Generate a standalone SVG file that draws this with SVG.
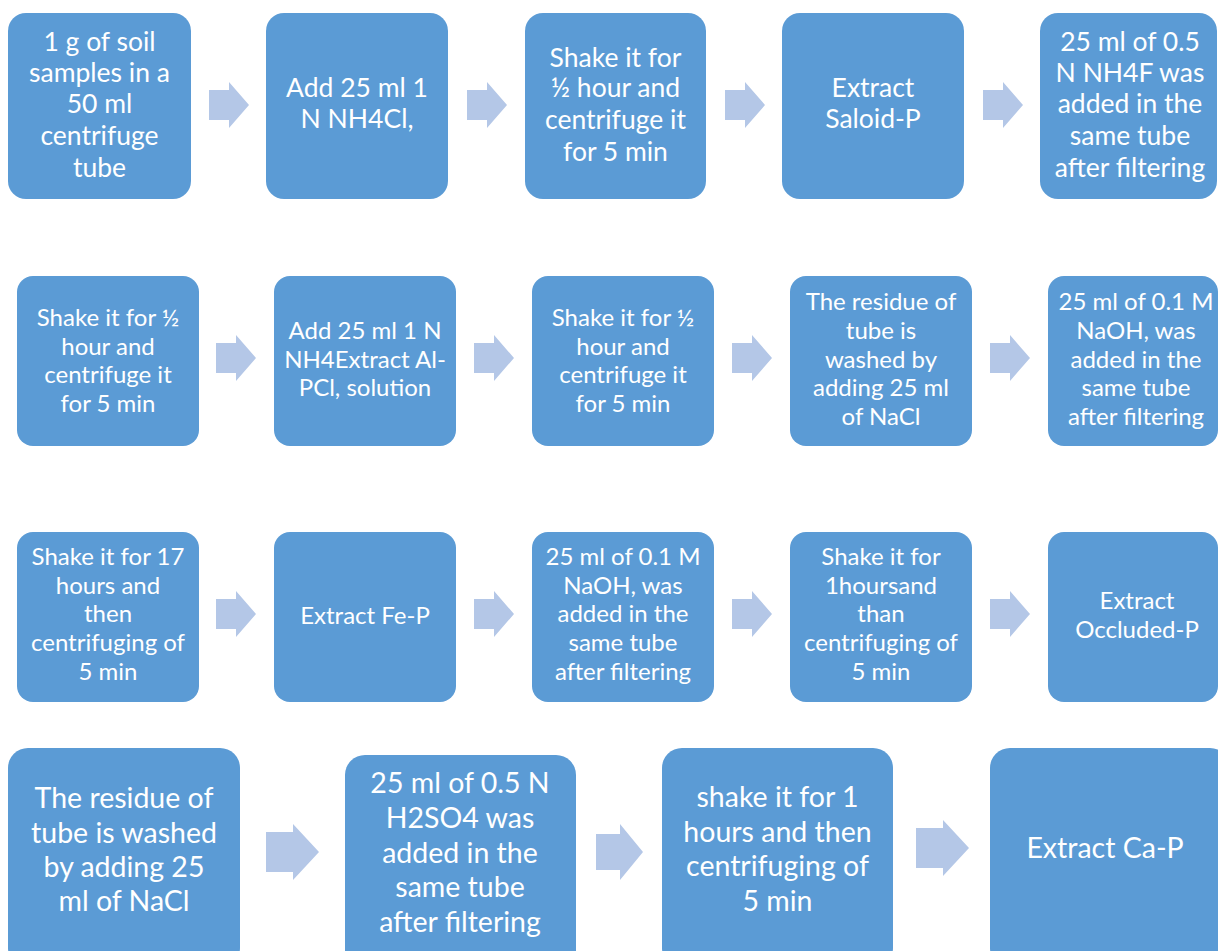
<svg xmlns="http://www.w3.org/2000/svg" width="1218" height="951" viewBox="0 0 1218 951">
<style>
.box{fill:#5B9BD5}
.arr{fill:#B4C7E7}
text{fill:#FFFFFF;font-family:Lato,"Liberation Sans",sans-serif;text-anchor:middle}
.t1{font-size:26.5px}
.t2{font-size:24px}
.t4{font-size:28.5px}
</style>
<defs>
<path id="a" d="M0,-15 H20 V-23 L40,0 L20,23 V15 H0 Z"/>
<path id="b" d="M0,-20 H27 V-28 L53,0 L27,28 V20 H0 Z"/>
<path id="c" d="M0,-18 H24 V-28 L47,0 L24,28 V18 H0 Z"/>
</defs>
<rect width="1218" height="951" fill="#FFFFFF"/>
<g id="connectors">
<use href="#a" class="arr" x="209" y="105"/>
<use href="#a" class="arr" x="467" y="105"/>
<use href="#a" class="arr" x="725" y="105"/>
<use href="#a" class="arr" x="983" y="105"/>
<use href="#a" class="arr" x="216" y="358"/>
<use href="#a" class="arr" x="474" y="358"/>
<use href="#a" class="arr" x="732" y="358"/>
<use href="#a" class="arr" x="990" y="358"/>
<use href="#a" class="arr" x="216" y="614"/>
<use href="#a" class="arr" x="474" y="614"/>
<use href="#a" class="arr" x="732" y="614"/>
<use href="#a" class="arr" x="990" y="614"/>
<use href="#b" class="arr" x="266" y="852"/>
<use href="#c" class="arr" x="596" y="852"/>
<use href="#b" class="arr" x="916" y="848"/>
</g>
<g id="n1"><rect class="box" x="8" y="13" width="183" height="186" rx="18"/>
<text class="t1"><tspan x="99.5" y="51">1 g of soil</tspan><tspan x="99.5" y="82">samples in a</tspan><tspan x="99.5" y="113">50 ml</tspan><tspan x="99.5" y="145">centrifuge</tspan><tspan x="99.5" y="177">tube</tspan></text></g>
<g id="n2"><rect class="box" x="266" y="13" width="182" height="186" rx="18"/>
<text class="t1"><tspan x="357" y="97">Add 25 ml 1</tspan><tspan x="357" y="128">N NH4Cl,</tspan></text></g>
<g id="n3"><rect class="box" x="525" y="13" width="181" height="186" rx="18"/>
<text class="t1"><tspan x="615.5" y="67">Shake it for</tspan><tspan x="615.5" y="97">½ hour and</tspan><tspan x="615.5" y="129">centrifuge it</tspan><tspan x="615.5" y="161">for 5 min</tspan></text></g>
<g id="n4"><rect class="box" x="782" y="13" width="182" height="186" rx="18"/>
<text class="t1"><tspan x="873" y="97">Extract</tspan><tspan x="873" y="128">Saloid-P</tspan></text></g>
<g id="n5"><rect class="box" x="1040" y="13" width="177" height="186" rx="18"/>
<text class="t1"><tspan x="1130" y="51">25 ml of 0.5</tspan><tspan x="1130" y="82">N NH4F was</tspan><tspan x="1130" y="113">added in the</tspan><tspan x="1130" y="145">same tube</tspan><tspan x="1130" y="177">after filtering</tspan></text></g>

<g id="n6"><rect class="box" x="17" y="276" width="182" height="170" rx="16"/>
<text class="t2"><tspan x="108" y="326">Shake it for ½</tspan><tspan x="108" y="355">hour and</tspan><tspan x="108" y="383">centrifuge it</tspan><tspan x="108" y="412">for 5 min</tspan></text></g>
<g id="n7"><rect class="box" x="274" y="276" width="182" height="170" rx="16"/>
<text class="t2"><tspan x="365" y="339">Add 25 ml 1 N</tspan><tspan x="365" y="368">NH4Extract Al-</tspan><tspan x="365" y="396">PCl, solution</tspan></text></g>
<g id="n8"><rect class="box" x="532" y="276" width="182" height="170" rx="16"/>
<text class="t2"><tspan x="623" y="326">Shake it for ½</tspan><tspan x="623" y="355">hour and</tspan><tspan x="623" y="383">centrifuge it</tspan><tspan x="623" y="412">for 5 min</tspan></text></g>
<g id="n9"><rect class="box" x="790" y="276" width="182" height="170" rx="16"/>
<text class="t2"><tspan x="881" y="310">The residue of</tspan><tspan x="881" y="339">tube is</tspan><tspan x="881" y="368">washed by</tspan><tspan x="881" y="396">adding 25 ml</tspan><tspan x="881" y="425">of NaCl</tspan></text></g>
<g id="n10"><rect class="box" x="1048" y="276" width="170" height="170" rx="16"/>
<text class="t2"><tspan x="1136" y="310">25 ml of 0.1 M</tspan><tspan x="1136" y="339">NaOH, was</tspan><tspan x="1136" y="368">added in the</tspan><tspan x="1136" y="396">same tube</tspan><tspan x="1136" y="425">after filtering</tspan></text></g>

<g id="n11"><rect class="box" x="17" y="532" width="182" height="170" rx="16"/>
<text class="t2"><tspan x="108" y="565">Shake it for 17</tspan><tspan x="108" y="594">hours and</tspan><tspan x="108" y="622">then</tspan><tspan x="108" y="651">centrifuging of</tspan><tspan x="108" y="680">5 min</tspan></text></g>
<g id="n12"><rect class="box" x="274" y="532" width="182" height="170" rx="16"/>
<text class="t2"><tspan x="365" y="624">Extract Fe-P</tspan></text></g>
<g id="n13"><rect class="box" x="532" y="532" width="182" height="170" rx="16"/>
<text class="t2"><tspan x="623" y="565">25 ml of 0.1 M</tspan><tspan x="623" y="594">NaOH, was</tspan><tspan x="623" y="622">added in the</tspan><tspan x="623" y="651">same tube</tspan><tspan x="623" y="680">after filtering</tspan></text></g>
<g id="n14"><rect class="box" x="790" y="532" width="182" height="170" rx="16"/>
<text class="t2"><tspan x="881" y="565">Shake it for</tspan><tspan x="881" y="594">1hoursand</tspan><tspan x="881" y="622">than</tspan><tspan x="881" y="651">centrifuging of</tspan><tspan x="881" y="680">5 min</tspan></text></g>
<g id="n15"><rect class="box" x="1048" y="532" width="170" height="170" rx="16"/>
<text class="t2"><tspan x="1137" y="609">Extract</tspan><tspan x="1137" y="638">Occluded-P</tspan></text></g>

<g id="n16"><rect class="box" x="8" y="748" width="232" height="220" rx="20"/>
<text class="t4"><tspan x="124" y="808">The residue of</tspan><tspan x="124" y="843">tube is washed</tspan><tspan x="124" y="877">by adding 25</tspan><tspan x="124" y="911">ml of NaCl</tspan></text></g>
<g id="n17"><rect class="box" x="345" y="755" width="231" height="220" rx="20"/>
<text class="t4"><tspan x="460" y="793">25 ml of 0.5 N</tspan><tspan x="460" y="828">H2SO4 was</tspan><tspan x="460" y="863">added in the</tspan><tspan x="460" y="897">same tube</tspan><tspan x="460" y="932">after filtering</tspan></text></g>
<g id="n18"><rect class="box" x="662" y="748" width="231" height="220" rx="20"/>
<text class="t4"><tspan x="777.5" y="807">shake it for 1</tspan><tspan x="777.5" y="842">hours and then</tspan><tspan x="777.5" y="876">centrifuging of</tspan><tspan x="777.5" y="911">5 min</tspan></text></g>
<g id="n19"><rect class="box" x="990" y="748" width="240" height="220" rx="20"/>
<text class="t4"><tspan x="1105" y="858">Extract Ca-P</tspan></text></g>
</svg>
